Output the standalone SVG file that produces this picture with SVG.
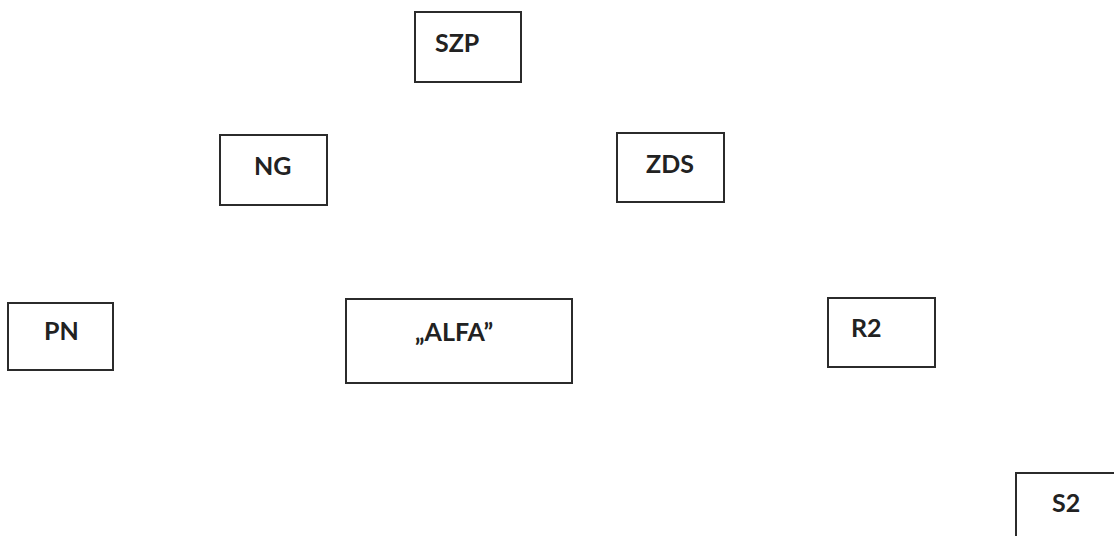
<svg xmlns="http://www.w3.org/2000/svg" width="1114" height="536" viewBox="0 0 1114 536">
<style>
.box{fill:#fff;stroke:#2b2b2b;stroke-width:2}
.lbl{font-family:Lato,"Open Sans","Liberation Sans",sans-serif;font-weight:bold;font-size:25px;fill:#222}
</style>
<rect x="0" y="0" width="1114" height="536" fill="#fff"/>
<g id="connectors"></g>
<g id="SZP"><rect class="box" x="415" y="12" width="106" height="70"/><text class="lbl" x="435" y="52">SZP</text></g>
<g id="NG"><rect class="box" x="220" y="135" width="107" height="70"/><text class="lbl" x="254" y="175">NG</text></g>
<g id="ZDS"><rect class="box" x="617" y="133" width="107" height="69"/><text class="lbl" x="646" y="173">ZDS</text></g>
<g id="PN"><rect class="box" x="8" y="303" width="105" height="67"/><text class="lbl" x="44" y="340">PN</text></g>
<g id="ALFA"><rect class="box" x="346" y="299" width="226" height="84"/><text class="lbl" x="415" y="341">„ALFA”</text></g>
<g id="R2"><rect class="box" x="828" y="298" width="107" height="69"/><text class="lbl" x="851" y="337">R2</text></g>
<g id="S2"><rect class="box" x="1016" y="473" width="110" height="80"/><text class="lbl" x="1052" y="512">S2</text></g>
</svg>
